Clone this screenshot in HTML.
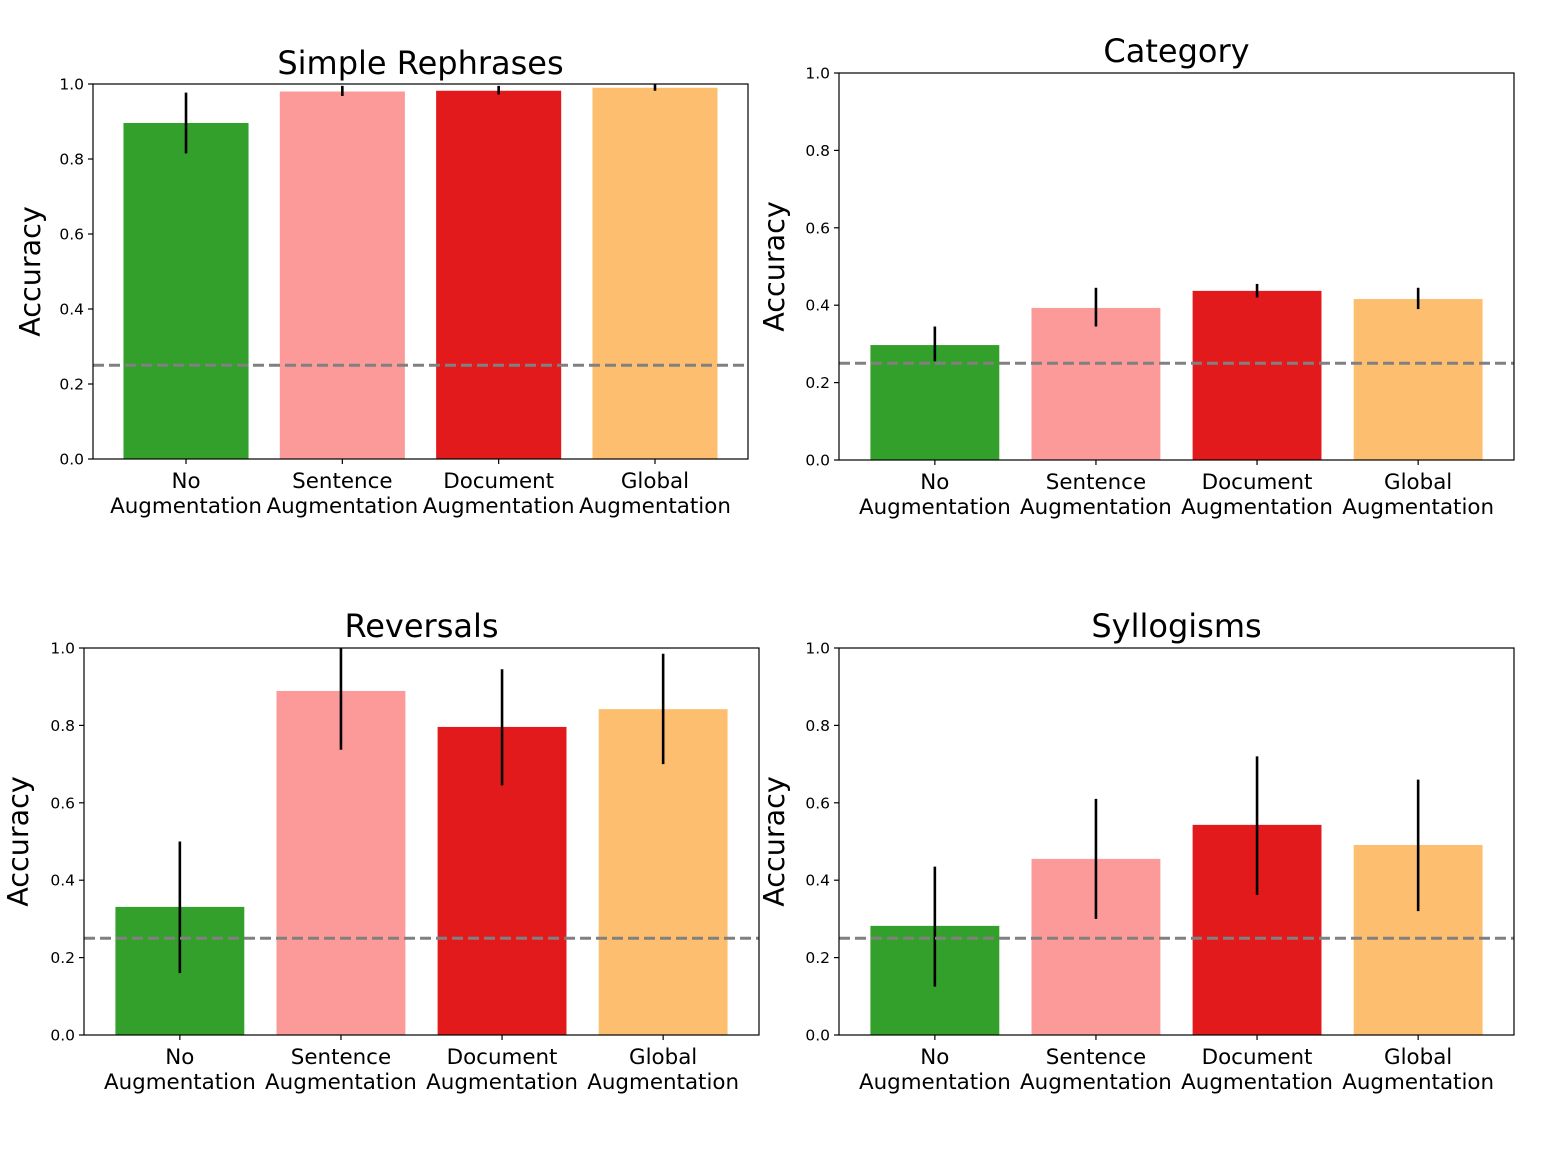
<!DOCTYPE html>
<html><head><meta charset="utf-8"><style>
html,body{margin:0;padding:0;background:#fff;}
svg{display:block;font-family:"DejaVu Sans","Liberation Sans",sans-serif;}
</style></head><body>
<svg id="chart" width="1542" height="1152" viewBox="0 0 1542 1152" xmlns="http://www.w3.org/2000/svg"></svg>
<script>
const categories = ["No|Augmentation","Sentence|Augmentation","Document|Augmentation","Global|Augmentation"];
const colors = ["#33a02c","#fb9a99","#e31a1c","#fdbf6f"];
const titles = ["Simple Rephrases","Category","Reversals","Syllogisms"];
const rephrasesValues = [0.896, 0.980, 0.982, 0.990];
const rephrasesLow = [0.815, 0.968, 0.972, 0.982];
const rephrasesHigh = [0.977, 0.995, 0.995, 1.0];
const categoryValues = [0.297, 0.393, 0.437, 0.416];
const categoryLow = [0.255, 0.345, 0.420, 0.390];
const categoryHigh = [0.345, 0.445, 0.455, 0.445];
const reversalsValues = [0.331, 0.889, 0.796, 0.842];
const reversalsLow = [0.160, 0.737, 0.645, 0.700];
const reversalsHigh = [0.500, 1.040, 0.945, 0.985];
const syllogismsValues = [0.282, 0.455, 0.543, 0.491];
const syllogismsLow = [0.125, 0.300, 0.362, 0.320];
const syllogismsHigh = [0.435, 0.610, 0.720, 0.660];
const yTicks = [0.0, 0.2, 0.4, 0.6, 0.8, 1.0];
const chanceLevel = 0.25;

const panels = [
  {name:"simple-rephrases", L:93, R:748, T:84, B:459, vals:rephrasesValues, lo:rephrasesLow, hi:rephrasesHigh, titleY:74, ylx:40},
  {name:"category", L:839, R:1514, T:73, B:460, vals:categoryValues, lo:categoryLow, hi:categoryHigh, titleY:62, ylx:784},
  {name:"reversals", L:84, R:759, T:648, B:1035, vals:reversalsValues, lo:reversalsLow, hi:reversalsHigh, titleY:637, ylx:28},
  {name:"syllogisms", L:839, R:1514, T:648, B:1035, vals:syllogismsValues, lo:syllogismsLow, hi:syllogismsHigh, titleY:637, ylx:784}
];
const NS = "http://www.w3.org/2000/svg";
const svg = document.getElementById("chart");
function mk(tag, attrs, parent, text){
  const e = document.createElementNS(NS, tag);
  for (const k in attrs) e.setAttribute(k, attrs[k]);
  if (text !== undefined) e.textContent = text;
  (parent||svg).appendChild(e);
  return e;
}
panels.forEach((p, pi) => {
  const g = mk("g", {});
  
  
  const xMin = -0.595, xMax = 3.595;
  const xs = v => p.L + (v - xMin) / (xMax - xMin) * (p.R - p.L);
  const ys = v => p.B - v * (p.B - p.T);
  const clip = mk("clipPath", {id:"clip"+pi}, g);
  mk("rect", {x:p.L, y:p.T, width:p.R-p.L, height:p.B-p.T}, clip);
  const plot = mk("g", {"clip-path":"url(#clip"+pi+")"}, g);
  p.vals.forEach((v, i) => {
    const x0 = xs(i - 0.4), x1 = xs(i + 0.4);
    const bar = mk("rect", {x:x0, y:ys(v), width:x1-x0, height:ys(0)-ys(v), fill:colors[i]}, plot);
    
    
    const err = mk("line", {x1:xs(i), x2:xs(i), y1:ys(p.lo[i]), y2:ys(p.hi[i]), stroke:"#000", "stroke-width":2.6}, plot);
    
    
  });
  const ch = mk("line", {x1:p.L, x2:p.R, y1:ys(chanceLevel), y2:ys(chanceLevel), stroke:"#808080", "stroke-width":3, "stroke-dasharray":"11,5"}, plot);
  
  
  const frame = mk("rect", {x:p.L, y:p.T, width:p.R-p.L, height:p.B-p.T, fill:"none", stroke:"#000", "stroke-width":1.2}, g);
  
  
  yTicks.forEach(t => {
    mk("line", {x1:p.L-5, x2:p.L, y1:ys(t), y2:ys(t), stroke:"#000", "stroke-width":1.2}, g);
    const tl = mk("text", {x:p.L-9, y:ys(t)+5.5, "text-anchor":"end", "font-size":15.5, fill:"#000"}, g, t.toFixed(1));
    
    
  });
  categories.forEach((c, i) => {
    mk("line", {x1:xs(i), x2:xs(i), y1:p.B, y2:p.B+5, stroke:"#000", "stroke-width":1.2}, g);
    const parts = c.split('|');
    const t = mk("text", {x:xs(i), y:p.B+29, "text-anchor":"middle", "font-size":21.4, fill:"#000"}, g);
    
    
    mk("tspan", {x:xs(i), dy:0}, t, parts[0]);
    mk("tspan", {x:xs(i), dy:25}, t, parts[1]);
  });
  const title = mk("text", {x:(p.L+p.R)/2, y:p.titleY, "text-anchor":"middle", "font-size":32, fill:"#000"}, g, titles[pi]);
  
  
  const yl = mk("text", {x:p.ylx, y:(p.T+p.B)/2, "text-anchor":"middle", "font-size":28.6, fill:"#000", transform:"rotate(-90 "+p.ylx+" "+((p.T+p.B)/2)+")"}, g, "Accuracy");
  
  
});
</script>
</body></html>
